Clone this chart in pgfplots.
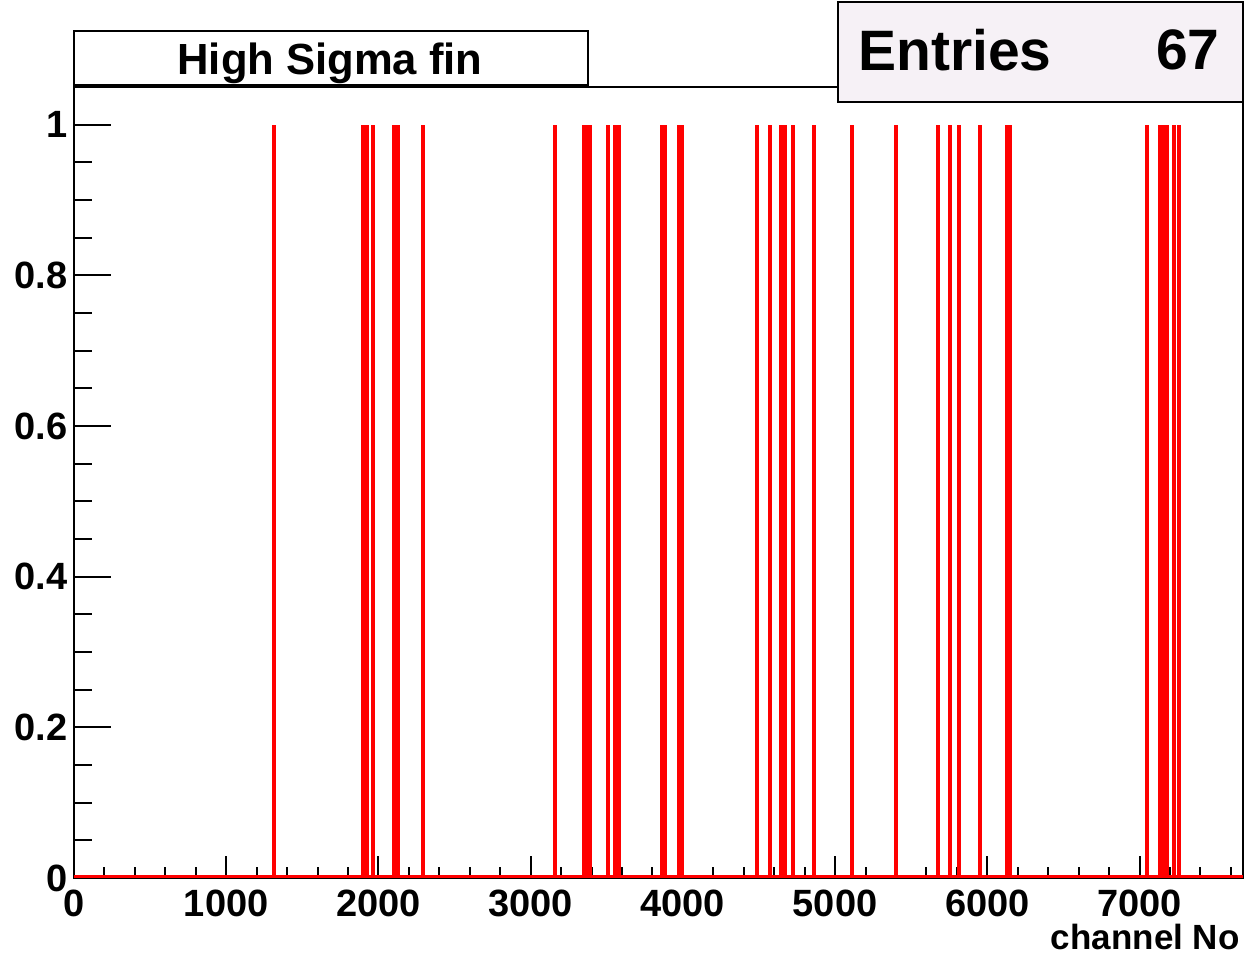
\documentclass[border=0pt]{standalone}
\usepackage{fontspec}
\setmainfont{Liberation Sans}
\usepackage{pgfplots}
\pgfplotsset{compat=1.18}
\definecolor{boxfill}{RGB}{246,241,246}
\pgfplotstableread{
x y
1314 1
1900 1
1925 1
1964 1
2099 1
2129 1
2295 1
3162 1
3351 1
3370 1
3390 1
3505 1
3551 1
3581 1
3863 1
3883 1
3975 1
3995 1
4487 1
4570 1
4648 1
4671 1
4723 1
4859 1
5108 1
5397 1
5675 1
5756 1
5812 1
5950 1
6127 1
6146 1
7052 1
7132 1
7155 1
7181 1
7227 1
7257 1
}\spikes
\begin{document}
\begin{tikzpicture}
\useasboundingbox (-37pt,-39.5pt) rectangle (586pt,439pt);
\begin{axis}[
  at={(0,0)}, anchor=south west, scale only axis,
  width=584.5pt, height=395.5pt,
  xmin=0, xmax=7680, ymin=0, ymax=1.05,
  axis line style={black, line width=1pt},
  tick style={black, line width=1pt},
  tick align=inside,
  xtick pos=bottom, ytick pos=left,
  xtick={0,1000,2000,3000,4000,5000,6000,7000},
  xticklabels={0,1000,2000,3000,4000,5000,6000,7000},
  minor xtick={200,400,...,7600},
  ytick={0,0.2,0.4,0.6,0.8,1},
  yticklabels={0,0.2,0.4,0.6,0.8,1},
  minor ytick={0.05,0.1,0.15,0.25,0.3,0.35,0.45,0.5,0.55,0.65,0.7,0.75,0.85,0.9,0.95},
  xtick style={/pgfplots/major tick length=11pt, /pgfplots/minor tick length=5.5pt},
  ytick style={/pgfplots/major tick length=18.5pt, /pgfplots/minor tick length=9pt},
  ticklabel style={font=\bfseries\fontsize{19pt}{19pt}\selectfont},
  xticklabel style={inner sep=0pt, anchor=north, yshift=-6pt},
  yticklabel style={inner sep=0pt, anchor=east, xshift=-3pt},
  /pgf/number format/assume math mode=true,
  clip=false,
]
\addplot[red, line width=1.8pt] coordinates {(0,0.002) (7680,0.002)};
\addplot[red, line width=2pt, ycomb, mark=none] table[x=x, y=y] {\spikes};
\node[anchor=base east, inner sep=0pt, font=\bfseries\fontsize{17.5pt}{17.5pt}\selectfont]
  at (rel axis cs:1,0) [yshift=-35.5pt, xshift=-1.5pt] {channel No};
\end{axis}
% title box
\draw[line width=1pt, fill=white] (0,396pt) rectangle (257pt,423.5pt);
\draw[line width=1.5pt] (0,396.3pt) -- (257pt,396.3pt);
\node[anchor=base, inner sep=0pt, font=\bfseries\fontsize{21.8pt}{21.8pt}\selectfont]
  at (128pt,401.5pt) {High Sigma fin};
% entries box
\draw[line width=1pt, fill=boxfill] (382pt,388pt) rectangle (584.5pt,438pt);
\node[anchor=west, inner sep=0pt, font=\bfseries\fontsize{28.5pt}{28.5pt}\selectfont]
  at (392pt,414pt) {Entries};
\node[anchor=east, inner sep=0pt, font=\bfseries\fontsize{28.5pt}{28.5pt}\selectfont]
  at (573pt,414pt) {67};
\end{tikzpicture}
\end{document}
